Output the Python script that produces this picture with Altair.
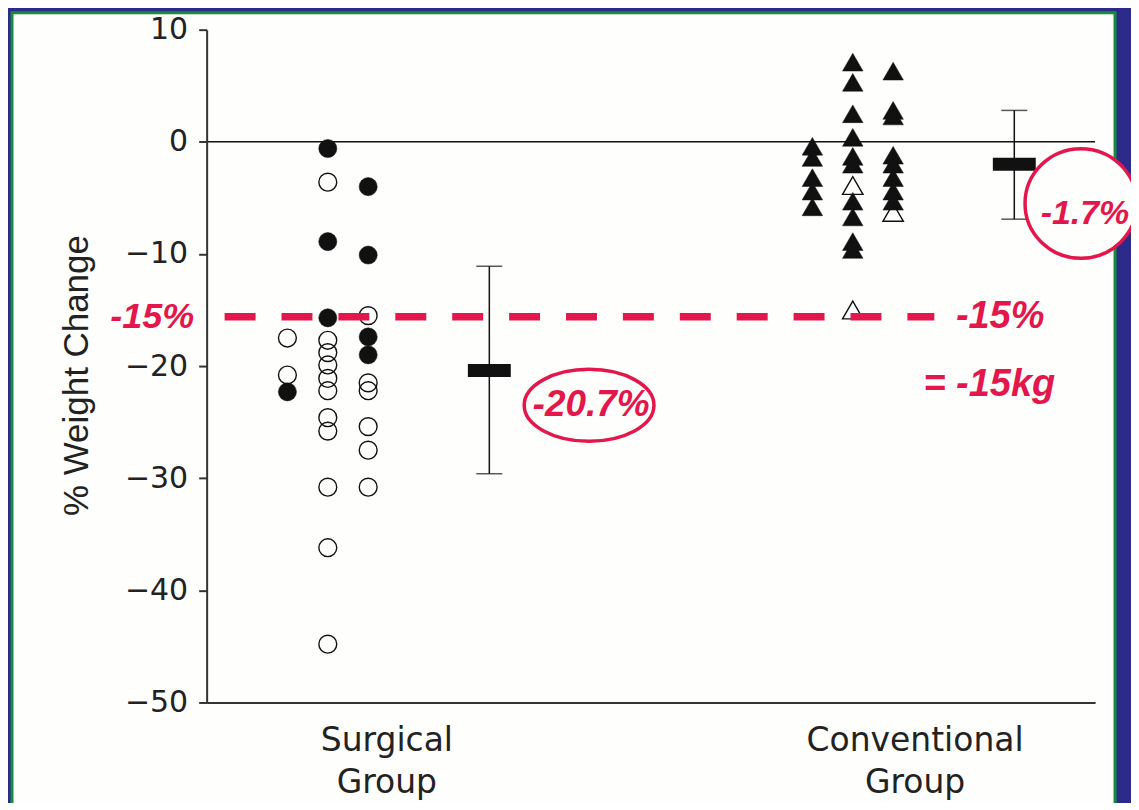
import altair as alt
import pandas as pd

# ---------------- data ----------------
# Surgical group (circles); column = position inside the group's dot column (-1, 0, +1)
surg_open_col = [-1, -1, 0, 0, 0, 0, 0, 0, 0, 0, 0, 0, 0, 1, 1, 1, 1, 1, 1]
surg_open_val = [-17.5, -20.8, -3.6, -17.7, -18.8, -19.9, -21.1, -22.2, -24.6, -25.8,
                 -30.8, -36.2, -44.8, -15.5, -21.5, -22.2, -25.4, -27.5, -30.8]
surg_filled_col = [-1, 0, 0, 0, 1, 1, 1, 1]
surg_filled_val = [-22.3, -0.6, -8.9, -15.7, -4.0, -10.1, -17.4, -19.0]

# Conventional group (triangles)
conv_filled_col = [-1] * 5 + [0] * 10 + [1] * 8
conv_filled_val = [-0.4, -1.4, -3.2, -4.4, -5.8,
                   7.1, 5.3, 2.5, 0.4, -1.3, -2.0, -5.3, -6.7, -8.9, -9.6,
                   6.3, 2.8, 2.3, -1.2, -2.0, -3.2, -4.4, -5.3]
conv_open_col = [0, 0, 1]
conv_open_val = [-3.9, -15.0, -6.3]

# Group summaries (mean and spread bar)
groups = ["Surgical", "Conventional"]
group_center = [3, 16]
group_mean = [-20.4, -2.0]
group_low = [-29.6, -6.9]
group_high = [-11.1, 2.8]
stat_offset = 4

# x-axis category labels
label_pos = [4.45, 17.53]

# threshold line
threshold = -15.6
threshold_from = 0.445
threshold_to = 18.02

# red annotations
ann_text = ["-15%", "-15%", "= -15kg", "-20.7%", "-1.7%"]
ann_x = [-1.35, 19.65, 19.38, 9.52, 21.75]
ann_y = [-15.6, -15.6, -21.7, -23.5, -6.4]
ann_size = [36, 38, 38, 37, 34]

ell1_x, ell1_y = [9.47], [-23.5]
ell2_x, ell2_y = [21.65], [-5.5]

# ---------------- styling ----------------
RED = "#e3174b"
BLUE = "#2c2a8a"
GREEN = "#198c3c"
CREAM = "#fefefc"
INK = "#222222"

W, H = 890, 674

def X(field):
    return alt.X(field, type="quantitative",
                 scale=alt.Scale(domain=[0, 22], nice=False, zero=False),
                 axis=alt.Axis(values=label_pos, ticks=False, grid=False, title=None,
                               domainColor="#333333", domainWidth=2,
                               labelExpr="datum.value < 10 ? ['Surgical', 'Group'] : ['Conventional', 'Group']",
                               labelFont="DejaVu Sans", labelFontSize=33, labelColor=INK,
                               labelLineHeight=42, labelPadding=22, labelFlush=False,
                               labelLimit=600, labelOverlap=False, zindex=1))

def Y(field):
    return alt.Y(field, type="quantitative",
                 scale=alt.Scale(domain=[-50, 10], nice=False, zero=False),
                 axis=alt.Axis(values=list(range(-50, 11, 10)), format="d", grid=False,
                               title="% Weight Change", titleFont="Liberation Sans",
                               titleFontSize=35, titleFontWeight="normal", titleColor=INK,
                               titleX=-112, titleY=346,
                               domainColor="#333333", domainWidth=2,
                               tickColor="#333333", tickWidth=2, tickSize=8,
                               labelFont="DejaVu Sans", labelFontSize=30, labelColor=INK,
                               labelPadding=11, zindex=1))

def pts(cols, vals, center):
    return pd.DataFrame({"x": [center + c for c in cols], "y": vals})

s_open = pts(surg_open_col, surg_open_val, group_center[0])
s_fill = pts(surg_filled_col, surg_filled_val, group_center[0])
c_open = pts(conv_open_col, conv_open_val, group_center[1])
c_fill = pts(conv_filled_col, conv_filled_val, group_center[1])

stats = pd.DataFrame({
    "group": groups,
    "x": [c + stat_offset for c in group_center],
    "mean": group_mean, "low": group_low, "high": group_high,
})
caps = pd.DataFrame({
    "x": [c + stat_offset for c in group_center] * 2,
    "y": group_low + group_high,
})
thr = pd.DataFrame({"x1": [threshold_from], "x2": [threshold_to], "y": [threshold]})
ann = pd.DataFrame({"t": ann_text, "x": ann_x, "y": ann_y, "fs": ann_size})

panel = alt.Chart(pd.DataFrame({"a": [0]})).mark_rect(
    fill=CREAM, stroke=GREEN, strokeWidth=3
).encode(x=alt.value(-195), x2=alt.value(910), y=alt.value(-17), y2=alt.value(800))

zero = alt.Chart(pd.DataFrame({"y": [0]})).mark_rule(color="#111111", strokeWidth=1.6).encode(
    y=Y("y"))

err = alt.Chart(stats).mark_rule(color="#111111", strokeWidth=1.5).encode(
    x=X("x"), y=Y("low"), y2="high")
cap = alt.Chart(caps).mark_tick(color="#111111", thickness=1.5, size=26, orient="horizontal").encode(
    x=X("x"), y=Y("y"))
mean = alt.Chart(stats).mark_tick(color="#111111", thickness=13, size=43, orient="horizontal",
                                  opacity=1).encode(x=X("x"), y=Y("mean"))

open_c = alt.Chart(s_open).mark_point(shape="circle", filled=False, stroke="#111111",
                                      strokeWidth=1.4, size=320, opacity=1).encode(
    x=X("x"), y=Y("y"))
open_t = alt.Chart(c_open).mark_point(shape="triangle-up", filled=True, fill="white",
                                      stroke="#111111", strokeWidth=1.4, size=420,
                                      opacity=1).encode(x=X("x"), y=Y("y"))
red_line = alt.Chart(thr).mark_rule(color=RED, strokeWidth=7.5, strokeDash=[31, 26],
                                    strokeCap="butt").encode(x=X("x1"), x2="x2", y=Y("y"))
fill_c = alt.Chart(s_fill).mark_point(shape="circle", filled=True, fill="#111111",
                                      stroke="#111111", strokeWidth=0.5, size=330,
                                      opacity=1).encode(x=X("x"), y=Y("y"))
fill_t = alt.Chart(c_fill).mark_point(shape="triangle-up", filled=True, fill="#111111",
                                      stroke="#111111", strokeWidth=0.5, size=420,
                                      opacity=1).encode(x=X("x"), y=Y("y"))

ell1 = alt.Chart(pd.DataFrame({"x": ell1_x, "y": ell1_y})).mark_point(
    shape="M-1,0A1,0.554 0 1,1 1,0A1,0.554 0 1,1 -1,0Z", filled=True, fill=CREAM,
    stroke=RED, strokeWidth=3.5, size=130 ** 2, opacity=1
).encode(x=X("x"), y=Y("y"))
ell2 = alt.Chart(pd.DataFrame({"x": ell2_x, "y": ell2_y})).mark_point(
    shape="M-1,0A1,0.98 0 1,1 1,0A1,0.98 0 1,1 -1,0Z", filled=True, fill=CREAM,
    stroke=RED, strokeWidth=3.5, size=112 ** 2, opacity=1
).encode(x=X("x"), y=Y("y"))

texts = alt.Chart(ann).mark_text(font="Liberation Sans", fontStyle="italic",
                                 fontWeight="bold", color=RED, align="center",
                                 baseline="middle").encode(
    x=X("x"), y=Y("y"), text="t:N", size=alt.Size("fs:Q", scale=None, legend=None))

chart = alt.layer(
    panel, zero, err, cap, mean, open_c, open_t, red_line, fill_c, fill_t, ell1, ell2, texts
).properties(
    width=W, height=H,
    padding={"left": 199, "top": 21, "right": 36, "bottom": 100},
    autosize=alt.AutoSizeParams(type="none"),
    background=BLUE,
).configure_view(strokeWidth=0)

chart.save("out.html", embed_options={"renderer": "svg", "actions": False})
